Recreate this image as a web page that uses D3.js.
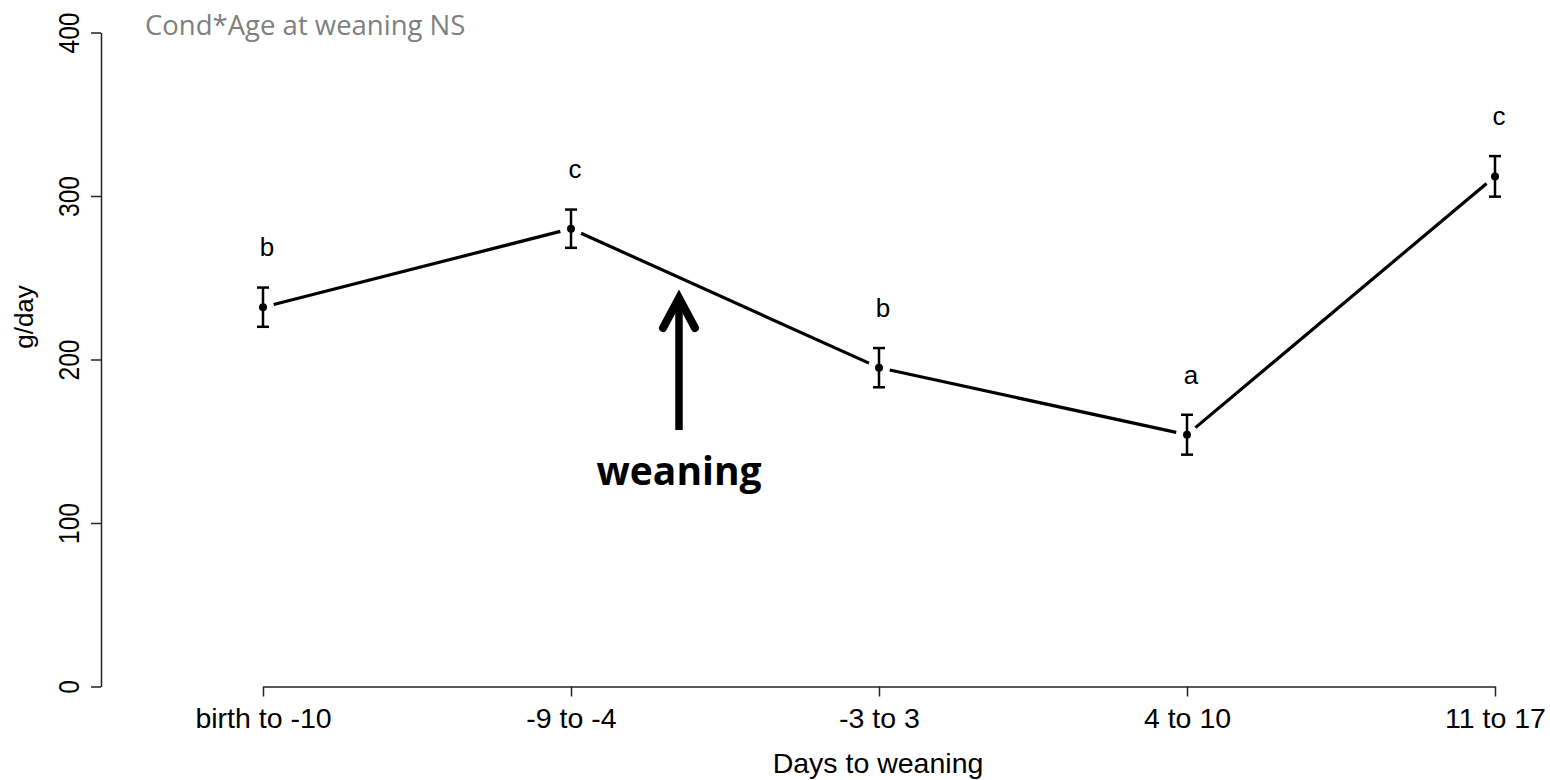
<!DOCTYPE html>
<html>
<head>
<meta charset="utf-8">
<script src="https://cdn.jsdelivr.net/npm/d3@7"></script>
<style>
  body { margin: 0; background: #fff; }
  text { font-family: "Liberation Sans", Arial, sans-serif; }
</style>
</head>
<body>
<script>
var categories = ["birth to -10", "-9 to -4", "-3 to 3", "4 to 10", "11 to 17"];
var means = [232, 280, 195, 154, 312];
var se = [12, 11.7, 12, 12.2, 12.4];
var letters = ["b", "c", "b", "a", "c"];
var yTicks = [0, 100, 200, 300, 400];

var width = 1550, height = 780;

var svg = d3.select("body").append("svg")
    .attr("width", width)
    .attr("height", height);

var x = d3.scalePoint().domain(categories).range([263, 1495]);
var y = d3.scaleLinear().domain([0, 400]).range([686.5, 32.5]);

var data = categories.map(function(c, i) {
  return {cat: c, mean: means[i], se: se[i], letter: letters[i]};
});

// y axis
var yAxis = svg.append("g")
    .attr("transform", "translate(101,0)")
    .call(d3.axisLeft(y).tickValues(yTicks).tickSize(10).tickSizeOuter(0).tickFormat(d3.format("d")));
yAxis.select(".domain").attr("stroke", "#222").attr("stroke-width", 1.5);
yAxis.selectAll(".tick line").attr("stroke", "#222").attr("stroke-width", 1.5);
yAxis.selectAll(".tick text")
    .attr("x", null).attr("dy", null)
    .attr("text-anchor", "middle")
    .attr("fill", "#000")
    .style("font-size", "29px")
    .attr("transform", "translate(-22,0) rotate(-90) scale(0.85,1)");

// x axis
var xAxis = svg.append("g")
    .attr("transform", "translate(0," + y(0) + ")")
    .call(d3.axisBottom(x).tickSize(10).tickSizeOuter(0));
xAxis.select(".domain").attr("stroke", "#222").attr("stroke-width", 1.5);
xAxis.selectAll(".tick line").attr("stroke", "#222").attr("stroke-width", 1.5);
xAxis.selectAll(".tick text")
    .attr("y", 41).attr("dy", null)
    .attr("fill", "#000")
    .style("font-size", "28.5px");

// axis titles
svg.append("text")
    .attr("x", 878).attr("y", 773)
    .attr("text-anchor", "middle")
    .style("font-size", "28.5px")
    .text("Days to weaning");

svg.append("text")
    .attr("transform", "translate(33,317) rotate(-90)")
    .attr("text-anchor", "middle")
    .style("font-size", "26px")
    .text("g/day");

// line segments with gaps (type "b")
var gap = 11;
for (var i = 0; i < data.length - 1; i++) {
  var x1 = x(data[i].cat), y1 = y(data[i].mean);
  var x2 = x(data[i + 1].cat), y2 = y(data[i + 1].mean);
  var len = Math.sqrt((x2 - x1) * (x2 - x1) + (y2 - y1) * (y2 - y1));
  var ux = (x2 - x1) / len, uy = (y2 - y1) / len;
  svg.append("line")
      .attr("x1", x1 + ux * gap).attr("y1", y1 + uy * gap)
      .attr("x2", x2 - ux * gap).attr("y2", y2 - uy * gap)
      .attr("stroke", "#000")
      .attr("stroke-width", 3.2);
}

// error bars
var bars = svg.selectAll(".err").data(data).enter().append("g").attr("class", "err");
bars.append("line")
    .attr("x1", function(d) { return x(d.cat); })
    .attr("x2", function(d) { return x(d.cat); })
    .attr("y1", function(d) { return y(d.mean + d.se); })
    .attr("y2", function(d) { return y(d.mean - d.se); })
    .attr("stroke", "#000").attr("stroke-width", 2.5);
bars.append("line")
    .attr("x1", function(d) { return x(d.cat) - 6; })
    .attr("x2", function(d) { return x(d.cat) + 6; })
    .attr("y1", function(d) { return y(d.mean + d.se); })
    .attr("y2", function(d) { return y(d.mean + d.se); })
    .attr("stroke", "#000").attr("stroke-width", 2.5);
bars.append("line")
    .attr("x1", function(d) { return x(d.cat) - 6; })
    .attr("x2", function(d) { return x(d.cat) + 6; })
    .attr("y1", function(d) { return y(d.mean - d.se); })
    .attr("y2", function(d) { return y(d.mean - d.se); })
    .attr("stroke", "#000").attr("stroke-width", 2.5);

// points
svg.selectAll(".pt").data(data).enter().append("circle")
    .attr("class", "pt")
    .attr("cx", function(d) { return x(d.cat); })
    .attr("cy", function(d) { return y(d.mean); })
    .attr("r", 4)
    .attr("fill", "#000");

// letters
svg.selectAll(".lett").data(data).enter().append("text")
    .attr("class", "lett")
    .attr("x", function(d) { return x(d.cat) + 4; })
    .attr("y", function(d) { return y(d.mean) - 51; })
    .attr("text-anchor", "middle")
    .style("font-size", "26px")
    .text(function(d) { return d.letter; });

// weaning arrow
var ax = 679;
svg.append("line")
    .attr("x1", ax).attr("y1", 430)
    .attr("x2", ax).attr("y2", 300)
    .attr("stroke", "#000").attr("stroke-width", 7.5);
svg.append("path")
    .attr("d", "M" + (ax - 16) + ",328 L" + ax + ",298 L" + (ax + 16) + ",328")
    .attr("fill", "none")
    .attr("stroke", "#000")
    .attr("stroke-width", 8)
    .attr("stroke-linecap", "round")
    .attr("stroke-linejoin", "miter");

svg.append("text")
    .attr("x", 679).attr("y", 485)
    .attr("text-anchor", "middle")
    .style("font-family", "'Open Sans', sans-serif")
    .style("font-weight", "bold")
    .style("font-size", "39px")
    .text("weaning");

// annotation
svg.append("text")
    .attr("x", 145).attr("y", 35)
    .style("font-family", "'Open Sans', sans-serif")
    .style("font-size", "27.5px")
    .attr("fill", "#7f7f7f")
    .text("Cond*Age at weaning NS");
</script>
</body>
</html>
